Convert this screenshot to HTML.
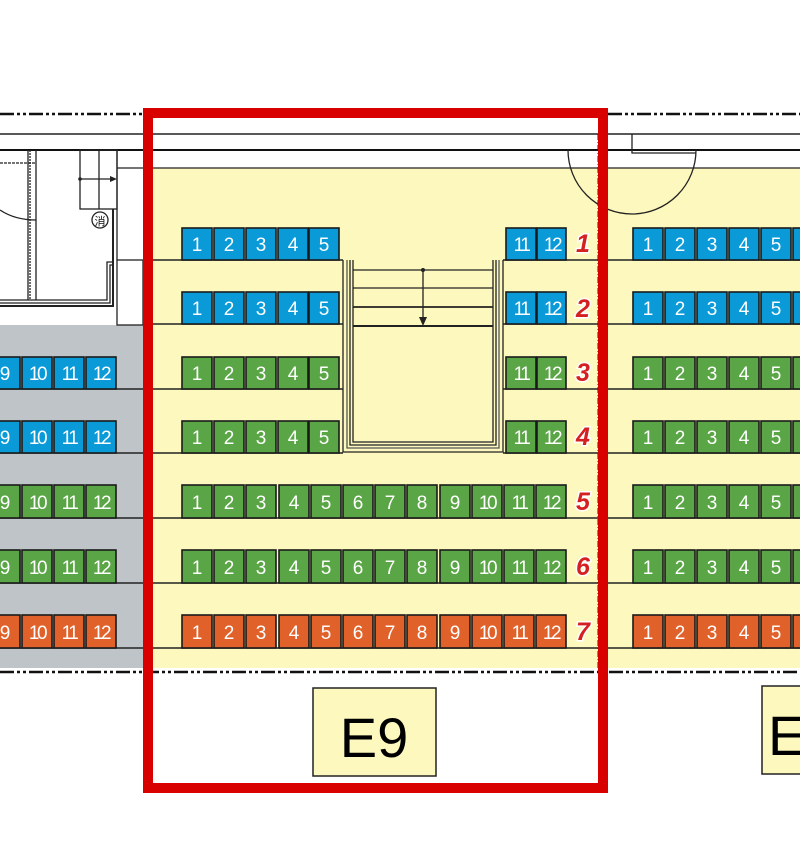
<!DOCTYPE html>
<html><head><meta charset="utf-8"><style>
html,body{margin:0;padding:0;background:#fff;}
svg{display:block;}
.s text{font-family:"Liberation Sans",sans-serif;font-size:19px;fill:#fff;text-anchor:middle;}
.s text.n{font-size:19px;letter-spacing:-2.5px;}
.rl{font-family:"Liberation Sans",sans-serif;font-style:italic;font-weight:bold;font-size:25px;fill:#d42020;stroke:#fff;stroke-width:3px;paint-order:stroke;text-anchor:middle;}
</style></head><body>
<svg width="800" height="862" viewBox="0 0 800 862" xmlns="http://www.w3.org/2000/svg">
<rect x="143" y="168" width="657" height="500" fill="#fdf8bd"/>
<rect x="0" y="325" width="143" height="343" fill="#bfc4c9"/>
<line x1="0" y1="114" x2="143" y2="114" stroke="#111" stroke-width="2.5" stroke-dasharray="14,3,3,3,3,3"/>
<line x1="608" y1="114" x2="800" y2="114" stroke="#111" stroke-width="2.5" stroke-dasharray="14,3,3,3,3,3"/>
<line x1="0" y1="134" x2="800" y2="134" stroke="#222" stroke-width="1.5"/>
<line x1="0" y1="150" x2="800" y2="150" stroke="#111" stroke-width="2"/>
<line x1="117" y1="168" x2="800" y2="168" stroke="#222" stroke-width="1.2"/>
<line x1="0" y1="672" x2="800" y2="672" stroke="#111" stroke-width="2.5" stroke-dasharray="14,3,3,3,3,3"/>
<path d="M568 150 A64 64 0 0 0 696 150" fill="none" stroke="#222" stroke-width="1.3"/>
<path d="M632 134 V153 H696" fill="none" stroke="#222" stroke-width="1.3"/>
<line x1="598" y1="134" x2="598" y2="668" stroke="#222" stroke-width="1" stroke-dasharray="6,2,1,2"/>
<g fill="none" stroke="#222" stroke-width="1.3">
<line x1="28" y1="150" x2="28" y2="300"/><line x1="30" y1="150" x2="30" y2="300" stroke-dasharray="2,1"/>
<line x1="36" y1="150" x2="36" y2="300"/>
<line x1="0" y1="163" x2="36" y2="163" stroke-dasharray="3,1"/>
<path d="M0 210 Q15 220 36 220"/>
<rect x="80" y="150" width="37" height="59"/>
<line x1="99" y1="150" x2="99" y2="209"/>
<line x1="80" y1="179" x2="114" y2="179"/>
<path d="M0 300 H107 V262 H113" /><path d="M0 303 H110 V265 H113"/><path d="M0 306 H113 V209" stroke-width="2"/>
<rect x="117" y="260" width="26" height="65"/>
<line x1="117" y1="150" x2="117" y2="260"/>
</g>
<polygon points="117,179 110,176 110,182" fill="#222"/>
<circle cx="80" cy="179" r="1.8" fill="#222"/>
<circle cx="100" cy="220" r="8" fill="#fff" stroke="#222" stroke-width="1.3"/>
<text x="100" y="225" font-family="'Noto Sans CJK JP',sans-serif" font-size="11" text-anchor="middle" fill="#111">消</text>
<g stroke="#222" stroke-width="1.5">
<line x1="143" y1="260" x2="343" y2="260"/><line x1="503" y1="260" x2="800" y2="260"/>
<line x1="143" y1="324" x2="343" y2="324"/><line x1="503" y1="324" x2="800" y2="324"/>
<line x1="0" y1="389" x2="343" y2="389"/><line x1="503" y1="389" x2="800" y2="389"/>
<line x1="0" y1="453" x2="343" y2="453"/><line x1="503" y1="453" x2="800" y2="453"/>
<line x1="0" y1="518" x2="800" y2="518"/>
<line x1="0" y1="583" x2="800" y2="583"/>
<line x1="0" y1="648" x2="800" y2="648"/>
</g>
<g fill="none" stroke="#222" stroke-width="1.3">
<path d="M343 260 V452 H503 V260"/>
<path d="M347 260 V448 H499 V260" stroke="#555"/>
<path d="M350 260 V445 H496 V260"/>
<path d="M353 260 V442 H493 V260"/>
<line x1="353" y1="270" x2="493" y2="270"/>
<line x1="353" y1="288" x2="493" y2="288"/>
<line x1="353" y1="307" x2="493" y2="307" stroke-width="1.8"/>
<line x1="353" y1="326" x2="493" y2="326" stroke-width="2"/>
<line x1="423" y1="270" x2="423" y2="324"/>
</g>
<circle cx="423" cy="270" r="2" fill="#222"/>
<polygon points="423,326 419,317 427,317" fill="#222"/>

<g class="s" stroke-width="0">
<g fill="#0a9ad8" stroke="#1a1a1a" stroke-width="1.6">
<rect x="182" y="228" width="30" height="32"/><rect x="214" y="228" width="30" height="32"/><rect x="246" y="228" width="30" height="32"/><rect x="278" y="228" width="30" height="32"/><rect x="309" y="228" width="30" height="32"/>
<rect x="506" y="228" width="30" height="32"/><rect x="537" y="228" width="29" height="32"/>
<rect x="633" y="228" width="30" height="32"/><rect x="665" y="228" width="30" height="32"/><rect x="697" y="228" width="30" height="32"/><rect x="729" y="228" width="30" height="32"/><rect x="761" y="228" width="30" height="32"/><rect x="793" y="228" width="30" height="32"/>
<rect x="182" y="292" width="30" height="32"/><rect x="214" y="292" width="30" height="32"/><rect x="246" y="292" width="30" height="32"/><rect x="278" y="292" width="30" height="32"/><rect x="309" y="292" width="30" height="32"/>
<rect x="506" y="292" width="30" height="32"/><rect x="537" y="292" width="29" height="32"/>
<rect x="633" y="292" width="30" height="32"/><rect x="665" y="292" width="30" height="32"/><rect x="697" y="292" width="30" height="32"/><rect x="729" y="292" width="30" height="32"/><rect x="761" y="292" width="30" height="32"/><rect x="793" y="292" width="30" height="32"/>
<rect x="-10" y="357" width="30" height="32"/><rect x="22" y="357" width="30" height="32"/><rect x="54" y="357" width="30" height="32"/><rect x="86" y="357" width="30" height="32"/>
<rect x="-10" y="421" width="30" height="32"/><rect x="22" y="421" width="30" height="32"/><rect x="54" y="421" width="30" height="32"/><rect x="86" y="421" width="30" height="32"/>
</g>
<g fill="#5aa545" stroke="#1a1a1a" stroke-width="1.6">
<rect x="182" y="357" width="30" height="32"/><rect x="214" y="357" width="30" height="32"/><rect x="246" y="357" width="30" height="32"/><rect x="278" y="357" width="30" height="32"/><rect x="309" y="357" width="30" height="32"/>
<rect x="506" y="357" width="30" height="32"/><rect x="537" y="357" width="29" height="32"/>
<rect x="633" y="357" width="30" height="32"/><rect x="665" y="357" width="30" height="32"/><rect x="697" y="357" width="30" height="32"/><rect x="729" y="357" width="30" height="32"/><rect x="761" y="357" width="30" height="32"/><rect x="793" y="357" width="30" height="32"/>
<rect x="182" y="421" width="30" height="32"/><rect x="214" y="421" width="30" height="32"/><rect x="246" y="421" width="30" height="32"/><rect x="278" y="421" width="30" height="32"/><rect x="309" y="421" width="30" height="32"/>
<rect x="506" y="421" width="30" height="32"/><rect x="537" y="421" width="29" height="32"/>
<rect x="633" y="421" width="30" height="32"/><rect x="665" y="421" width="30" height="32"/><rect x="697" y="421" width="30" height="32"/><rect x="729" y="421" width="30" height="32"/><rect x="761" y="421" width="30" height="32"/><rect x="793" y="421" width="30" height="32"/>
<rect x="182" y="485" width="30" height="33"/><rect x="214" y="485" width="30" height="33"/><rect x="246" y="485" width="30" height="33"/><rect x="279" y="485" width="30" height="33"/><rect x="311" y="485" width="30" height="33"/><rect x="343" y="485" width="30" height="33"/><rect x="375" y="485" width="30" height="33"/><rect x="407" y="485" width="30" height="33"/><rect x="440" y="485" width="30" height="33"/><rect x="472" y="485" width="30" height="33"/><rect x="504" y="485" width="30" height="33"/><rect x="536" y="485" width="30" height="33"/>
<rect x="-10" y="485" width="30" height="33"/><rect x="22" y="485" width="30" height="33"/><rect x="54" y="485" width="30" height="33"/><rect x="86" y="485" width="30" height="33"/>
<rect x="633" y="485" width="30" height="33"/><rect x="665" y="485" width="30" height="33"/><rect x="697" y="485" width="30" height="33"/><rect x="729" y="485" width="30" height="33"/><rect x="761" y="485" width="30" height="33"/><rect x="793" y="485" width="30" height="33"/>
<rect x="182" y="550" width="30" height="33"/><rect x="214" y="550" width="30" height="33"/><rect x="246" y="550" width="30" height="33"/><rect x="279" y="550" width="30" height="33"/><rect x="311" y="550" width="30" height="33"/><rect x="343" y="550" width="30" height="33"/><rect x="375" y="550" width="30" height="33"/><rect x="407" y="550" width="30" height="33"/><rect x="440" y="550" width="30" height="33"/><rect x="472" y="550" width="30" height="33"/><rect x="504" y="550" width="30" height="33"/><rect x="536" y="550" width="30" height="33"/>
<rect x="-10" y="550" width="30" height="33"/><rect x="22" y="550" width="30" height="33"/><rect x="54" y="550" width="30" height="33"/><rect x="86" y="550" width="30" height="33"/>
<rect x="633" y="550" width="30" height="33"/><rect x="665" y="550" width="30" height="33"/><rect x="697" y="550" width="30" height="33"/><rect x="729" y="550" width="30" height="33"/><rect x="761" y="550" width="30" height="33"/><rect x="793" y="550" width="30" height="33"/>
</g>
<g fill="#e0622a" stroke="#1a1a1a" stroke-width="1.6">
<rect x="182" y="615" width="30" height="33"/><rect x="214" y="615" width="30" height="33"/><rect x="246" y="615" width="30" height="33"/><rect x="279" y="615" width="30" height="33"/><rect x="311" y="615" width="30" height="33"/><rect x="343" y="615" width="30" height="33"/><rect x="375" y="615" width="30" height="33"/><rect x="407" y="615" width="30" height="33"/><rect x="440" y="615" width="30" height="33"/><rect x="472" y="615" width="30" height="33"/><rect x="504" y="615" width="30" height="33"/><rect x="536" y="615" width="30" height="33"/>
<rect x="-10" y="615" width="30" height="33"/><rect x="22" y="615" width="30" height="33"/><rect x="54" y="615" width="30" height="33"/><rect x="86" y="615" width="30" height="33"/>
<rect x="633" y="615" width="30" height="33"/><rect x="665" y="615" width="30" height="33"/><rect x="697" y="615" width="30" height="33"/><rect x="729" y="615" width="30" height="33"/><rect x="761" y="615" width="30" height="33"/><rect x="793" y="615" width="30" height="33"/>
</g>

<g>
<text x="197" y="251">1</text><text x="229" y="251">2</text><text x="261" y="251">3</text><text x="293" y="251">4</text><text x="324" y="251">5</text>
<text class="n" x="521" y="251">11</text><text class="n" x="552" y="251">12</text>
<text x="648" y="251">1</text><text x="680" y="251">2</text><text x="712" y="251">3</text><text x="744" y="251">4</text><text x="776" y="251">5</text>

<text x="197" y="315">1</text><text x="229" y="315">2</text><text x="261" y="315">3</text><text x="293" y="315">4</text><text x="324" y="315">5</text>
<text class="n" x="521" y="315">11</text><text class="n" x="552" y="315">12</text>
<text x="648" y="315">1</text><text x="680" y="315">2</text><text x="712" y="315">3</text><text x="744" y="315">4</text><text x="776" y="315">5</text>

<text x="197" y="380">1</text><text x="229" y="380">2</text><text x="261" y="380">3</text><text x="293" y="380">4</text><text x="324" y="380">5</text>
<text class="n" x="521" y="380">11</text><text class="n" x="552" y="380">12</text>
<text x="648" y="380">1</text><text x="680" y="380">2</text><text x="712" y="380">3</text><text x="744" y="380">4</text><text x="776" y="380">5</text>

<text x="197" y="444">1</text><text x="229" y="444">2</text><text x="261" y="444">3</text><text x="293" y="444">4</text><text x="324" y="444">5</text>
<text class="n" x="521" y="444">11</text><text class="n" x="552" y="444">12</text>
<text x="648" y="444">1</text><text x="680" y="444">2</text><text x="712" y="444">3</text><text x="744" y="444">4</text><text x="776" y="444">5</text>

<text x="5" y="380">9</text><text class="n" x="37" y="380">10</text><text class="n" x="69" y="380">11</text><text class="n" x="101" y="380">12</text>
<text x="5" y="444">9</text><text class="n" x="37" y="444">10</text><text class="n" x="69" y="444">11</text><text class="n" x="101" y="444">12</text>
<text x="5" y="509">9</text><text class="n" x="37" y="509">10</text><text class="n" x="69" y="509">11</text><text class="n" x="101" y="509">12</text>
<text x="5" y="574">9</text><text class="n" x="37" y="574">10</text><text class="n" x="69" y="574">11</text><text class="n" x="101" y="574">12</text>
<text x="5" y="639">9</text><text class="n" x="37" y="639">10</text><text class="n" x="69" y="639">11</text><text class="n" x="101" y="639">12</text>

<text x="197" y="509">1</text><text x="229" y="509">2</text><text x="261" y="509">3</text><text x="294" y="509">4</text><text x="326" y="509">5</text><text x="358" y="509">6</text><text x="390" y="509">7</text><text x="422" y="509">8</text><text x="455" y="509">9</text><text class="n" x="487" y="509">10</text><text class="n" x="519" y="509">11</text><text class="n" x="551" y="509">12</text>
<text x="197" y="574">1</text><text x="229" y="574">2</text><text x="261" y="574">3</text><text x="294" y="574">4</text><text x="326" y="574">5</text><text x="358" y="574">6</text><text x="390" y="574">7</text><text x="422" y="574">8</text><text x="455" y="574">9</text><text class="n" x="487" y="574">10</text><text class="n" x="519" y="574">11</text><text class="n" x="551" y="574">12</text>
<text x="197" y="639">1</text><text x="229" y="639">2</text><text x="261" y="639">3</text><text x="294" y="639">4</text><text x="326" y="639">5</text><text x="358" y="639">6</text><text x="390" y="639">7</text><text x="422" y="639">8</text><text x="455" y="639">9</text><text class="n" x="487" y="639">10</text><text class="n" x="519" y="639">11</text><text class="n" x="551" y="639">12</text>
<text x="648" y="509">1</text><text x="680" y="509">2</text><text x="712" y="509">3</text><text x="744" y="509">4</text><text x="776" y="509">5</text>
<text x="648" y="574">1</text><text x="680" y="574">2</text><text x="712" y="574">3</text><text x="744" y="574">4</text><text x="776" y="574">5</text>
<text x="648" y="639">1</text><text x="680" y="639">2</text><text x="712" y="639">3</text><text x="744" y="639">4</text><text x="776" y="639">5</text>
</g>
</g>

<text class="rl" x="583" y="252">1</text>
<text class="rl" x="583" y="317">2</text>
<text class="rl" x="583" y="381">3</text>
<text class="rl" x="583" y="445">4</text>
<text class="rl" x="583" y="510">5</text>
<text class="rl" x="583" y="575">6</text>
<text class="rl" x="583" y="640">7</text>

<rect x="313" y="688" width="123" height="88" fill="#fdf8bd" stroke="#222" stroke-width="1.5"/>
<text x="374" y="757" font-family="'Liberation Sans',sans-serif" font-size="56" text-anchor="middle" fill="#000">E9</text>
<rect x="762" y="686" width="60" height="88" fill="#fdf8bd" stroke="#222" stroke-width="1.5"/>
<text x="768" y="755" font-family="'Liberation Sans',sans-serif" font-size="56" fill="#000">E</text>

<rect x="148" y="113" width="455" height="675" fill="none" stroke="#d90000" stroke-width="10"/>
</svg>
</body></html>
